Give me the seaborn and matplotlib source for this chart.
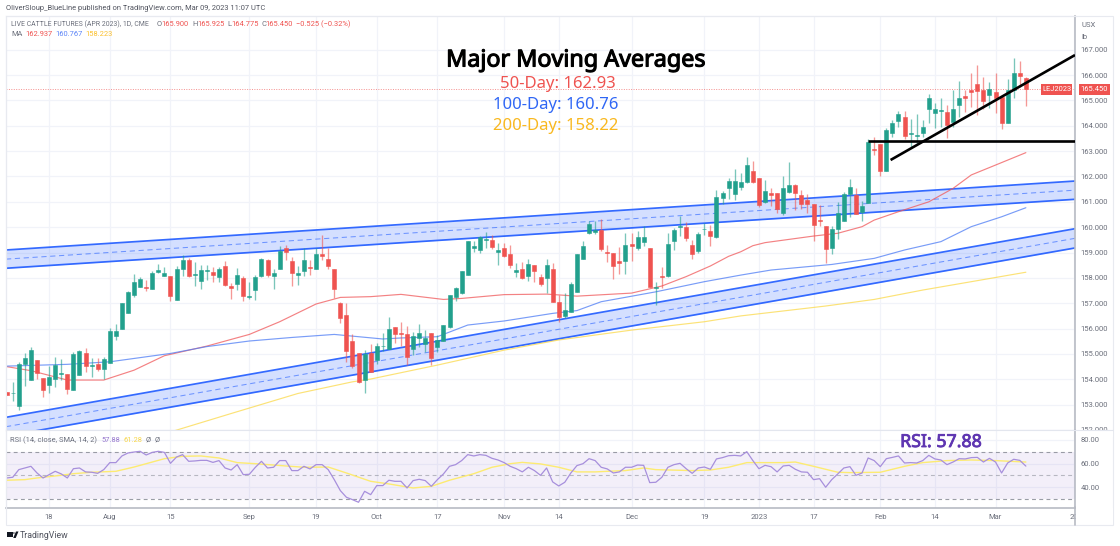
import pandas as pd
import seaborn as sns
import matplotlib.pyplot as plt
import matplotlib.patheffects as pe
from matplotlib.lines import Line2D
from matplotlib.patches import Rectangle, Circle, Polygon

opens = [153.50, 153.44, 152.94, 154.59, 153.97, 154.75, 154.04, 153.77, 154.01, 154.22,
         154.22, 153.56, 154.17, 155.02, 154.54, 154.60, 154.40, 154.65, 155.72, 155.97,
         156.60, 157.34, 157.63, 157.64, 157.56, 158.24, 158.06, 158.06, 157.13, 158.35,
         158.70, 158.11, 157.89, 158.26, 158.23, 158.02, 158.47, 157.67, 157.76, 158.01,
         157.26, 157.52, 158.06, 158.70, 158.09, 158.35, 159.16, 158.66, 158.11, 158.27,
         158.44, 158.34, 158.93, 158.76, 158.37, 157.02, 156.52, 155.53, 155.02, 153.97,
         155.03, 154.76, 155.30, 155.19, 156.06, 155.82, 155.80, 155.19, 155.63, 155.39,
         155.82, 155.26, 155.53, 156.06, 157.23, 157.40, 158.13, 159.19, 159.11, 159.49,
         159.48, 159.03, 159.16, 158.93, 158.24, 158.35, 158.09, 158.51, 158.03, 157.99,
         158.37, 157.05, 156.49, 156.65, 157.44, 158.74, 159.76, 159.82, 159.89, 159.02,
         158.97, 158.65, 158.66, 159.32, 159.16, 159.43, 159.16, 157.61, 158.07, 158.07,
         159.44, 160.00, 160.00, 159.31, 159.07, 159.91, 159.86, 159.62, 161.15, 161.56,
         161.31, 161.60, 161.77, 162.21, 161.95, 161.00, 161.33, 161.33, 160.57, 161.40,
         161.65, 161.25, 161.09, 160.91, 160.28, 160.04, 159.16, 159.92, 160.25, 161.29,
         161.27, 160.61, 160.94, 163.08, 163.30, 162.23, 163.73, 164.20, 164.36, 163.67,
         163.58, 163.70, 164.65, 164.49, 164.59, 164.53, 164.15, 164.80, 165.17, 165.40,
         165.66, 165.42, 165.20, 165.33, 165.12, 164.09, 165.43, 166.09, 165.90]
highs = [153.50, 153.88, 154.69, 155.02, 155.29, 154.75, 154.04, 154.52, 154.89, 154.82,
         154.22, 155.09, 155.15, 155.23, 154.85, 154.85, 154.89, 156.01, 156.17, 157.00,
         157.48, 158.14, 158.05, 157.92, 158.28, 158.55, 158.44, 158.06, 158.47, 158.89,
         158.77, 158.61, 158.49, 158.49, 158.41, 158.44, 158.65, 157.81, 158.39, 158.07,
         157.85, 158.13, 158.78, 158.76, 158.34, 159.27, 159.28, 158.81, 158.45, 159.16,
         158.70, 159.16, 159.68, 159.18, 158.37, 157.06, 157.00, 155.80, 155.02, 155.15,
         155.39, 155.44, 155.81, 156.47, 156.06, 156.27, 156.10, 155.85, 156.17, 155.94,
         155.82, 155.75, 156.14, 157.31, 157.63, 158.28, 159.44, 159.44, 159.65, 159.82,
         159.69, 159.36, 159.39, 159.30, 158.60, 158.64, 158.73, 158.51, 158.15, 158.73,
         158.57, 157.32, 157.39, 157.85, 158.93, 159.47, 160.26, 160.26, 160.31, 159.30,
         158.97, 159.20, 159.76, 159.76, 159.86, 160.05, 159.16, 157.85, 158.41, 159.76,
         159.95, 160.45, 160.22, 159.49, 159.80, 160.15, 160.08, 161.47, 161.44, 161.94,
         162.29, 162.15, 162.75, 162.61, 161.95, 161.86, 161.56, 161.36, 162.01, 162.59,
         161.70, 161.46, 161.31, 160.91, 160.87, 160.04, 160.04, 161.00, 161.40, 161.92,
         161.53, 161.03, 163.46, 163.57, 163.30, 163.90, 164.22, 164.59, 164.59, 164.25,
         164.46, 164.22, 165.24, 164.91, 165.11, 164.82, 165.43, 165.78, 165.43, 166.10,
         166.41, 165.93, 165.74, 166.09, 165.21, 165.83, 166.68, 166.57, 165.92]
lows = [153.40, 153.15, 152.79, 153.73, 153.97, 154.01, 153.31, 153.44, 153.71, 153.97,
        153.42, 153.56, 154.17, 154.30, 154.10, 154.33, 154.00, 154.65, 155.55, 155.97,
        156.60, 157.23, 157.63, 157.48, 157.56, 158.20, 158.06, 157.10, 157.13, 158.07,
        158.05, 157.68, 157.56, 157.92, 157.84, 157.82, 157.69, 157.15, 157.52, 157.10,
        157.15, 157.13, 158.05, 158.02, 157.57, 158.35, 158.70, 157.68, 157.72, 158.07,
        158.11, 158.34, 158.70, 158.37, 157.19, 156.21, 154.69, 154.43, 153.84, 153.44,
        154.27, 154.60, 155.13, 155.19, 155.42, 155.31, 154.55, 154.96, 155.29, 155.09,
        154.55, 155.09, 155.53, 156.02, 157.10, 157.36, 158.10, 159.03, 158.97, 159.16,
        159.14, 158.51, 158.81, 158.40, 158.05, 157.94, 157.89, 157.85, 157.68, 157.39,
        157.05, 156.27, 156.40, 156.65, 157.44, 158.74, 159.72, 159.73, 159.07, 158.64,
        157.97, 158.15, 158.14, 158.68, 159.10, 159.26, 157.63, 156.93, 157.59, 158.05,
        159.10, 159.65, 159.47, 158.73, 158.99, 159.69, 159.26, 159.56, 160.91, 161.11,
        161.07, 161.46, 161.73, 161.73, 160.81, 160.94, 160.83, 160.57, 160.48, 161.33,
        160.67, 160.70, 160.57, 159.46, 160.04, 158.57, 158.94, 159.52, 160.25, 160.41,
        160.52, 160.24, 160.94, 162.84, 162.02, 162.23, 163.57, 163.96, 163.49, 163.17,
        163.30, 163.54, 164.12, 163.90, 163.96, 163.50, 163.94, 164.36, 164.55, 164.75,
        164.42, 164.65, 164.69, 164.51, 163.87, 164.09, 165.11, 165.54, 164.78]
closes = [153.40, 153.46, 154.59, 154.85, 155.14, 154.26, 153.59, 154.10, 154.55, 154.25,
          153.60, 155.00, 155.10, 154.54, 154.56, 154.40, 154.80, 155.92, 155.89, 157.00,
          157.43, 157.82, 157.95, 157.60, 158.20, 158.32, 158.20, 157.30, 158.37, 158.70,
          158.07, 158.14, 158.30, 158.30, 158.11, 158.35, 157.73, 157.59, 158.10, 157.28,
          157.28, 158.03, 158.74, 158.11, 158.19, 159.07, 159.03, 158.19, 158.19, 158.69,
          158.40, 158.93, 158.87, 158.47, 157.55, 156.43, 155.11, 154.54, 153.89, 155.00,
          154.30, 155.31, 155.32, 155.98, 155.80, 155.78, 154.86, 155.69, 155.82, 155.63,
          154.85, 155.55, 156.14, 157.31, 157.60, 158.28, 159.44, 159.25, 159.60, 159.52,
          159.23, 159.09, 158.87, 158.51, 158.31, 158.01, 158.56, 158.26, 157.77, 158.51,
          157.05, 156.44, 156.72, 157.74, 158.93, 159.26, 160.12, 159.89, 159.14, 159.00,
          158.45, 158.57, 159.28, 159.24, 159.60, 159.60, 157.63, 157.65, 158.05, 159.35,
          159.90, 160.06, 159.57, 158.94, 159.72, 159.94, 159.66, 161.18, 161.33, 161.83,
          161.83, 161.79, 162.45, 161.78, 160.87, 161.42, 161.28, 160.70, 161.54, 161.66,
          161.33, 160.92, 160.91, 160.08, 160.23, 159.14, 159.92, 160.54, 161.29, 161.57,
          160.53, 160.83, 163.37, 163.03, 162.23, 163.83, 164.12, 164.47, 163.59, 163.70,
          163.63, 163.95, 165.11, 164.67, 164.62, 164.04, 164.65, 165.11, 165.08, 165.32,
          165.36, 164.96, 165.47, 165.11, 164.09, 165.42, 166.09, 165.96, 165.45]

rsi_values = [47.9, 48.5, 54.9, 56.3, 57.7, 52.1, 47.9, 50.7, 53.5, 51.3,
              47.9, 55.7, 56.3, 53.0, 52.7, 51.8, 54.9, 60.8, 60.8, 66.4,
              68.9, 69.7, 70.3, 67.2, 69.4, 70.3, 69.4, 60.2, 65.5, 67.5,
              61.9, 62.2, 62.7, 62.7, 61.0, 62.5, 56.3, 54.6, 59.1, 50.7,
              51.0, 56.9, 61.9, 56.3, 56.9, 62.5, 62.5, 54.1, 54.1, 57.7,
              55.5, 59.1, 59.1, 54.9, 46.5, 37.3, 31.7, 29.7, 27.5, 36.7,
              33.9, 41.5, 41.5, 46.0, 45.1, 45.1, 39.5, 45.7, 46.8, 45.7,
              40.9, 46.5, 51.3, 57.7, 59.1, 62.5, 67.5, 66.4, 67.5, 66.9,
              64.4, 63.0, 60.8, 57.7, 55.7, 53.0, 56.9, 54.1, 50.1, 56.3,
              44.6, 41.2, 44.3, 52.1, 58.3, 59.9, 64.1, 62.5, 56.9, 55.5,
              52.1, 53.0, 56.9, 56.9, 58.8, 58.5, 44.0, 44.3, 48.5, 56.9,
              59.1, 60.2, 55.7, 51.8, 56.3, 57.1, 55.2, 63.9, 65.0, 66.6,
              66.9, 66.4, 70.0, 62.5, 55.7, 58.5, 57.4, 53.0, 58.0, 58.5,
              55.2, 53.0, 52.7, 46.5, 47.3, 40.1, 46.5, 51.3, 56.3, 57.4,
              50.1, 52.1, 64.7, 62.5, 57.4, 64.1, 65.2, 66.4, 60.5, 60.8,
              60.5, 62.5, 66.9, 63.9, 63.0, 59.1, 61.3, 64.1, 63.9, 65.0,
              65.2, 61.3, 64.4, 61.3, 52.1, 60.5, 63.6, 62.7, 57.88]
rsi_ma_bars = [0, 3, 5, 8, 11, 14, 18, 21, 24, 26, 29, 32, 35, 38, 41, 46, 49, 53, 56, 60,
               63, 67, 70, 73, 77, 80, 83, 85, 88, 91, 94, 97, 99, 102, 105, 107, 113, 116, 119, 122,
               125, 128, 130, 133, 137, 139, 144, 148, 151, 155, 159, 163, 168]
rsi_ma_vals = [46.0, 46.5, 47.9, 49.6, 51.5, 52.7, 53.5, 57.1, 61.3, 64.1, 66.1, 66.4, 64.7, 60.8, 59.9, 58.0, 56.9, 57.1, 52.1, 45.1,
               42.9, 39.5, 40.9, 46.0, 51.5, 56.9, 59.9, 61.0, 59.7, 56.9, 53.0, 53.0, 53.5, 54.1, 56.3, 54.9, 54.1, 54.6, 56.9, 60.8,
               60.8, 60.8, 61.3, 57.7, 52.7, 52.4, 52.7, 57.7, 60.8, 62.5, 63.0, 62.5, 61.28]

ma50_bars = [0, 4, 10, 16, 21, 26, 33, 40, 45, 51, 55, 60, 65, 72, 75, 82, 89, 94, 103, 108,
             112, 116, 119, 121, 123, 125, 133, 137, 141, 143, 147, 152, 156, 159, 163, 168]
ma50_vals = [154.50, 154.34, 153.97, 153.97, 154.36, 154.93, 155.31, 155.77, 156.27, 156.97, 157.23, 157.26, 157.35, 157.15, 157.19, 157.34, 157.36, 157.28, 157.40, 157.68,
             158.05, 158.47, 158.85, 159.03, 159.27, 159.39, 159.65, 159.76, 160.02, 160.28, 160.61, 161.00, 161.53, 162.06, 162.45, 162.94]
ma100_bars = [0, 10, 17, 27, 33, 40, 47, 54, 58, 62, 65, 71, 76, 82, 90, 94, 98, 107, 115, 121,
              126, 136, 143, 148, 154, 159, 164, 168]
ma100_vals = [154.52, 154.59, 154.69, 155.02, 155.29, 155.51, 155.65, 155.77, 155.68, 155.59, 155.63, 155.68, 156.14, 156.30, 156.60, 156.71, 157.06, 157.45, 157.85, 158.11,
              158.31, 158.53, 158.77, 159.10, 159.43, 160.02, 160.41, 160.767]
ma200_bars = [26, 37, 48, 57, 60, 71, 82, 91, 103, 115, 121, 135, 143, 151, 159, 168]
ma200_vals = [151.85, 152.65, 153.44, 153.90, 154.01, 154.56, 155.15, 155.55, 155.94, 156.27, 156.50, 156.89, 157.15, 157.52, 157.85, 158.223]

# channels and drawn lines, as bar number and price at each end
channel_bars = [-0.11, 176.1]
upper_top = [159.10, 161.82]
upper_bottom = [158.38, 161.10]
lower_top = [152.50, 159.94]
lower_bottom = [151.76, 159.18]
flat_bars = [142, 176.1]
flat_price = [163.39, 163.39]
trend_bars = [145.7, 176.1]
trend_price = [162.65, 166.79]

price_ticks = list(range(152, 168))
rsi_ticks = [80, 60, 40]
time_ticks = [7, 17, 27, 40, 51, 61, 71, 82, 91, 103, 115, 124, 133, 144, 153, 163, 176]
time_labels = ["18", "Aug", "15", "Sep", "19", "Oct", "17", "Nov", "14", "Dec", "19", "2023", "17", "Feb", "14", "Mar", "20"]

UP = "#22a08d"
DOWN = "#ef5350"
BLUE = "#2962ff"
GRID = "#f1f3f9"
TEXT = "#6b6f7b"
FONT = "Roboto"
W, H = 1120, 546

sns.set_theme(style="white", rc={"font.family": [FONT, "DejaVu Sans"]})
fig = plt.figure(figsize=(W / 100, H / 100), dpi=100)


def box(left, top, right, bottom):
    return [left / W, 1 - bottom / H, (right - left) / W, (bottom - top) / H]


def label(x, y, s, color=TEXT, size=5.4, ha="left", **kw):
    return fig.text(x / W, 1 - y / H, s, color=color, fontsize=size, ha=ha, va="center", **kw)


def heavy(t, width=0.7):
    # the installed Noto Sans only draws regular, so thicken the outline a bit
    t.set_path_effects([pe.withStroke(linewidth=width, foreground=t.get_color())])


ax = fig.add_axes(box(6, 16, 1075, 430))
rsi_ax = fig.add_axes(box(6, 430, 1075, 507.5), sharex=ax)

candles = pd.DataFrame({"open": opens, "high": highs, "low": lows, "close": closes})
candles["bar"] = candles.index
candles["color"] = [UP if c >= o else DOWN for o, c in zip(opens, closes)]

# grid first
ax.set_xlim(-0.11, 176.1)
ax.set_ylim(152.0, 168.33)
ax.set_yticks(price_ticks)
ax.set_xticks(time_ticks)
ax.grid(True, color=GRID, lw=0.9)
ax.set_axisbelow(True)

# channels
for top, bottom in [(upper_top, upper_bottom), (lower_top, lower_bottom)]:
    ax.fill_between(channel_bars, bottom, top, color=BLUE, alpha=0.2, lw=0, zorder=1)
    mid = [(a + b) / 2 for a, b in zip(top, bottom)]
    ax.plot(channel_bars, top, color=BLUE, lw=1.25, alpha=0.95, zorder=1.5)
    ax.plot(channel_bars, bottom, color=BLUE, lw=1.25, alpha=0.95, zorder=1.5)
    ax.plot(channel_bars, mid, color=BLUE, lw=0.75, ls=(0, (5, 3.5)), alpha=0.6, zorder=1.5)

# moving averages
for bars, vals, col in [(ma50_bars, ma50_vals, "#f0585a"), (ma100_bars, ma100_vals, "#4d7cf5"), (ma200_bars, ma200_vals, "#fbd94a")]:
    df = pd.DataFrame({"bar": bars, "value": vals})
    sns.lineplot(data=df, x="bar", y="value", ax=ax, color=col, lw=0.85, alpha=0.75, zorder=2, estimator=None)

# candles
ax.vlines(candles["bar"], candles["low"], candles["high"], colors=candles["color"], lw=0.95, alpha=0.6, zorder=3)
ax.bar(candles["bar"], (candles["close"] - candles["open"]).abs(), bottom=candles[["open", "close"]].min(axis=1),
       width=0.66, color=candles["color"], edgecolor=candles["color"], lw=0.4, zorder=4)

ax.axhline(closes[-1], color=DOWN, lw=0.7, ls=(0, (1, 1.5)), alpha=0.65, zorder=2)
ax.plot(flat_bars, flat_price, color="black", lw=1.9, zorder=5, solid_capstyle="butt")
ax.plot(trend_bars, trend_price, color="black", lw=1.9, zorder=5, solid_capstyle="butt")

ax.yaxis.tick_right()
ax.set_yticklabels([f"{p}.000" for p in price_ticks])
ax.tick_params(axis="y", length=0, pad=4, labelsize=5.5, labelcolor=TEXT)
ax.tick_params(axis="x", length=0, labelbottom=False)
ax.set_xlabel("")
ax.set_ylabel("")

# rsi pane
rsi_ax.set_ylim(23.1, 88.2)
rsi_ax.set_yticks(rsi_ticks)
rsi_ax.grid(True, color=GRID, lw=0.9)
rsi_ax.set_axisbelow(True)
rsi_ax.axhspan(30, 70, color="#7e57c2", alpha=0.09, lw=0, zorder=1)
for level in [70, 50, 30]:
    rsi_ax.axhline(level, color="#8f929c", lw=0.8, ls=(0, (3.5, 3)), alpha=0.9 if level != 50 else 0.6, zorder=1.5)
rsi_df = pd.DataFrame({"bar": candles["bar"], "rsi": rsi_values})
rsi_ma_df = pd.DataFrame({"bar": rsi_ma_bars, "ma": rsi_ma_vals})
sns.lineplot(data=rsi_ma_df, x="bar", y="ma", ax=rsi_ax, color="#fdeb71", lw=1.0, zorder=2, estimator=None)
sns.lineplot(data=rsi_df, x="bar", y="rsi", ax=rsi_ax, color="#a78fdc", lw=0.9, zorder=3, estimator=None)
rsi_ax.yaxis.tick_right()
rsi_ax.set_yticklabels([f"{r}.00" for r in rsi_ticks])
rsi_ax.set_xticks(time_ticks)
rsi_ax.set_xticklabels(time_labels)
rsi_ax.tick_params(axis="y", length=0, pad=4, labelsize=5.5, labelcolor=TEXT)
rsi_ax.tick_params(axis="x", length=0, pad=4.5, labelsize=5.5, labelcolor=TEXT)
rsi_ax.set_xlabel("")
rsi_ax.set_ylabel("")

for a in [ax, rsi_ax]:
    for side in ["left", "top", "right", "bottom"]:
        a.spines[side].set_color("#e3e6ee")
        a.spines[side].set_linewidth(0.8)
    a.spines["right"].set_color("#b8bbc4")
    a.spines["right"].set_linewidth(1.2)
rsi_ax.spines["bottom"].set_color("#b8bbc4")
rsi_ax.spines["bottom"].set_linewidth(1.2)

# frame, axis line, masks for the clipped labels
fig.add_artist(Rectangle((6 / W, 1 - 525 / H), 1107 / W, 509 / H, fill=False, ec="#e8eaf0", lw=0.8, zorder=1))
fig.add_artist(Line2D([1075 / W, 1075 / W], [1 - 525 / H, 1 - 507 / H], color="#b8bbc4", lw=1.2, zorder=1))
fig.add_artist(Rectangle((1076 / W, 1 - 437 / H), 37 / W, 7 / H, fc="white", ec="none", zorder=5))
fig.add_artist(Rectangle((1076 / W, 1 - 524 / H), 37 / W, 16 / H, fc="white", ec="none", zorder=5))
fig.add_artist(Line2D([1076 / W, 1113 / W], [1 - 430 / H, 1 - 430 / H], color="#e3e6ee", lw=0.8, zorder=6))

# header texts
label(6, 8.5, "OliverSloup_BlueLine published on TradingView.com, Mar 09, 2023 11:07 UTC", color="#50535e")
label(11, 24.5, "LIVE CATTLE FUTURES (APR 2023), 1D, CME", size=4.95)
for x, s, col in [(156.5, "O", TEXT), (161, "165.900", DOWN), (192, "H", TEXT), (197, "165.925", DOWN),
                  (227, "L", TEXT), (231, "164.775", DOWN), (261, "C", TEXT), (265.5, "165.450", DOWN),
                  (296, "\u22120.525 (\u22120.32%)", DOWN)]:
    label(x, 24.5, s, color=col)
for x, s, col in [(11, "MA", TEXT), (25, "162.937", DOWN), (55, "160.767", "#5b84f7"), (85, "158.223", "#fbc02d")]:
    label(x, 35, s, color=col)
for x, s, col in [(10, "RSI (14, close, SMA, 14, 2)", TEXT), (101, "57.88", "#9575cd"), (123, "61.28", "#f7d64a"),
                  (146, "\u00d8", TEXT), (155, "\u00d8", TEXT)]:
    label(x, 440.5, s, color=col)

label(1081, 25, "USX", size=5.5)
label(1081, 37, "lb", size=5.5)

# last price tags
fig.add_artist(Rectangle((1041 / W, 1 - 94.5 / H), 31 / W, 10.5 / H, fc=DOWN, ec="none", zorder=5))
fig.add_artist(Rectangle((1079 / W, 1 - 94.5 / H), 31 / W, 10.5 / H, fc=DOWN, ec="none", zorder=5))
label(1056.5, 89.3, "LEJ2023", color="white", ha="center", zorder=6)
label(1094.5, 89.3, "165.450", color="white", ha="center", zorder=6)

# annotations
heavy(label(576, 60.5, "Major Moving Averages", color="black", size=16.8, ha="center", family="Noto Sans"), 0.8)
label(557.5, 84.5, "50-Day: 162.93", color=DOWN, size=12, ha="center", family="Noto Sans")
label(556, 105, "100-Day: 160.76", color="#2f66f5", size=12, ha="center", family="Noto Sans")
label(556, 126, "200-Day: 158.22", color="#f9b81f", size=12, ha="center", family="Noto Sans")
heavy(label(941, 442, "RSI: 57.88", color="#5e35b1", size=12.8, ha="center", family="Noto Sans", zorder=6), 0.6)

# footer logo
label(20, 535, "TradingView", color="#50535e", size=6.3)
fig.add_artist(Rectangle((6.5 / W, 1 - 537 / H), 6 / W, 5.5 / H, fc="#131722", ec="none"))
fig.add_artist(Circle((13.8 / W, 1 - 533 / H), 0.001, fc="#131722", ec="none"))
fig.add_artist(Polygon([(13.2 / W, 1 - 538 / H), (16 / W, 1 - 531.5 / H), (18.5 / W, 1 - 531.5 / H), (15.7 / W, 1 - 538 / H)],
                       fc="#131722", ec="none"))

fig.savefig("out.png", dpi=100)
